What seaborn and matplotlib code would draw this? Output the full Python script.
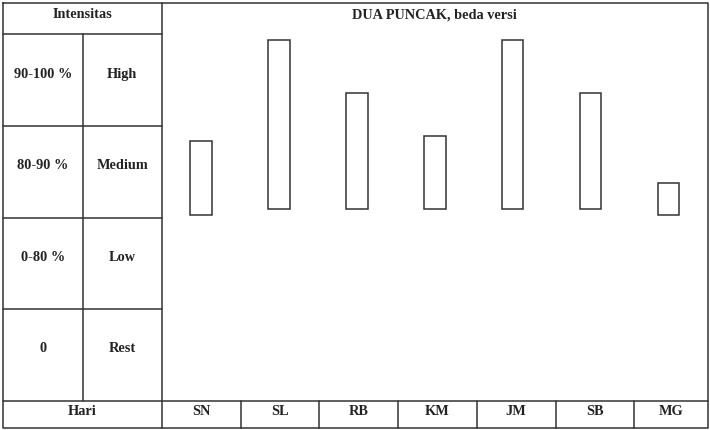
import pandas as pd
import matplotlib.pyplot as plt
import seaborn as sns

# Data (axis: 0 = bottom of "Rest" row, 100 = top of "High" row)
days = ["SN", "SL", "RB", "KM", "JM", "SB", "MG"]
low = [50.8, 52.2, 52.2, 52.2, 52.2, 52.2, 50.8]
high = [70.8, 98.4, 84.0, 72.2, 98.4, 84.0, 59.5]
ranges = ["90-100 %", "80-90 %", "0-80 %", "0"]
levels = ["High", "Medium", "Low", "Rest"]

df = pd.DataFrame({"Hari": days, "low": low, "high": high})
df["span"] = df["high"] - df["low"]

sns.set_style("white")
plt.rcParams["font.family"] = ["Liberation Serif", "DejaVu Serif"]

W, H = 710, 430
fig = plt.figure(figsize=(W / 100, H / 100), dpi=100)

# table frame in pixel coordinates
tab = fig.add_axes([0, 0, 1, 1])
tab.set_xlim(0, W)
tab.set_ylim(H, 0)
tab.axis("off")

line = dict(color="#333333", lw=1.1)
x0, xs, xm, x1 = 3.3, 82.7, 161.7, 707.5
y0, yh, yb, y1 = 3.3, 34.3, 400.7, 427.5
row_lines = [yh, 126, 217.7, 309.3, yb]
col_lines = [xm, 240.7, 319.3, 398.3, 476.7, 555.7, 634.3]

tab.plot([x0, x1, x1, x0, x0], [y0, y0, y1, y1, y0], **line)
for y in row_lines[:-1]:
    tab.plot([x0, xm], [y, y], **line)
tab.plot([x0, x1], [yb, yb], **line)
tab.plot([xs, xs], [yh, yb], **line)
tab.plot([xm, xm], [y0, y1], **line)
for x in col_lines[1:]:
    tab.plot([x, x], [yb, y1], **line)

txt = dict(ha="center", va="center", fontsize=10.3, fontweight="bold", color="#222222")
tab.text((x0 + xm) / 2, 15, "Intensitas", **txt)
tab.text((xm + x1) / 2, 15, "DUA PUNCAK, beda versi", **txt)
for i, (r, lv) in enumerate(zip(ranges, levels)):
    yc = (row_lines[i] + row_lines[i + 1]) / 2 - 6
    tab.text((x0 + xs) / 2, yc, r, **txt)
    tab.text((xs + xm) / 2, yc, lv, **txt)
tab.text((x0 + xm) / 2, 411.5, "Hari", **txt)
edges = col_lines + [x1]
for i, d in enumerate(days):
    tab.text((edges[i] + edges[i + 1]) / 2, 411.5, d, **txt)

# floating bars
ax = fig.add_axes([xm / W, (H - yb) / H, (x1 - xm) / W, (yb - yh) / H])
ax.patch.set_alpha(0)
sns.barplot(data=df, x="Hari", y="span", ax=ax, width=0.28,
            facecolor="white", edgecolor="#333333", linewidth=1.1)
for p, b in zip(ax.patches, df["low"]):
    p.set_y(b)
ax.set_xlim(-0.5, len(days) - 0.5)
ax.set_ylim(0, 100)
ax.set_xlabel("")
ax.set_ylabel("")
ax.set_xticks([])
ax.set_yticks([])
sns.despine(ax=ax, left=True, bottom=True)

fig.savefig("out.png", dpi=100)
